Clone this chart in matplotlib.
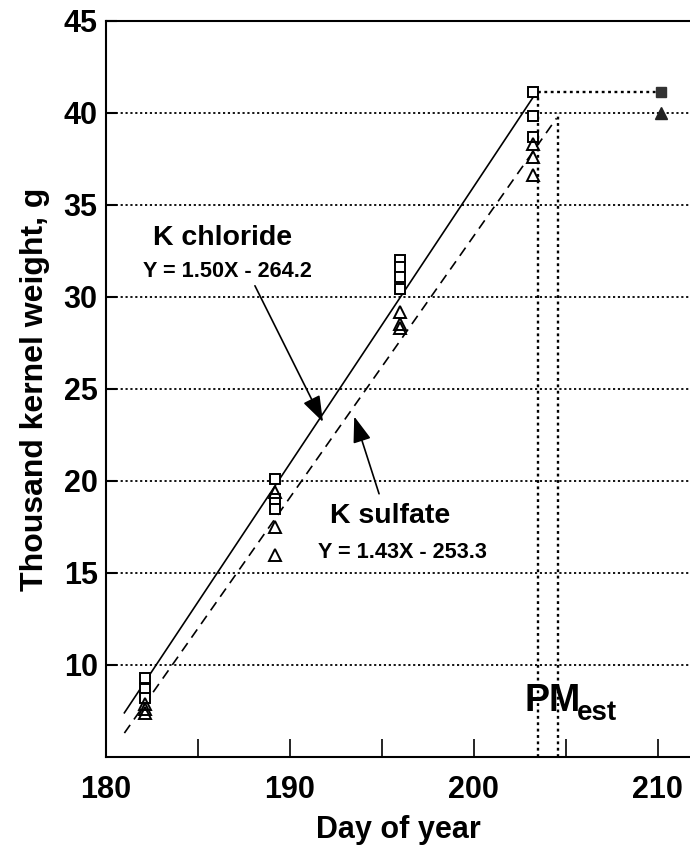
import numpy as np
import matplotlib
matplotlib.use("Agg")
import matplotlib.pyplot as plt

plt.rcParams['font.family'] = ['Liberation Sans', 'DejaVu Sans']
plt.rcParams['font.weight'] = 'bold'

# K chloride (open squares) and K sulfate (open triangles)
kcl_day = [182.1, 182.1, 182.1, 189.2, 189.2, 189.2, 196.0, 196.0, 196.0, 196.0, 203.2, 203.2, 203.2]
kcl_tkw = [9.3, 8.7, 8.2, 20.1, 19.0, 18.5, 32.0, 31.6, 31.1, 30.4, 41.1, 39.8, 38.7]
kso4_day = [182.1, 182.1, 182.1, 189.2, 189.2, 189.2, 196.0, 196.0, 196.0, 203.2, 203.2, 203.2]
kso4_tkw = [7.9, 7.6, 7.4, 19.4, 17.5, 16.0, 29.2, 28.5, 28.3, 38.3, 37.6, 36.6]

# final weights (filled symbols)
final_day = [210.2, 210.2]
final_tkw = [41.1, 40.0]

# regression line end points
kcl_line_x = [181.0, 203.4]
kcl_line_y = [7.4, 41.1]
kso4_line_x = [181.0, 204.5]
kso4_line_y = [6.3, 39.7]

# estimated physiological maturity
pm_kcl = (203.5, 41.1)
pm_kso4 = (204.6, 40.0)

fig = plt.figure(figsize=(6.9, 8.48), dpi=100)
ax = fig.add_axes([0.1536, 0.1073, 0.8464, 0.8683])
ax.set_xlim(180, 211.76)
ax.set_ylim(5, 45)

dot = (0, (1.2, 1.5))
for yv in range(10, 45, 5):
    ax.axhline(yv, color='black', lw=1.3, ls=dot, zorder=1)

ax.plot(kcl_line_x, kcl_line_y, color='black', lw=1.2, zorder=2)
ax.plot(kso4_line_x, kso4_line_y, color='black', lw=1.2, ls=(0, (6, 4)), zorder=2)

# PM dotted guides
ax.plot([pm_kcl[0], pm_kcl[0]], [5, pm_kcl[1]], color='black', lw=1.7, ls=dot, zorder=1)
ax.plot([pm_kcl[0], final_day[0]], [pm_kcl[1], pm_kcl[1]], color='black', lw=1.7, ls=dot, zorder=1)
ax.plot([pm_kso4[0], pm_kso4[0]], [5, pm_kso4[1]], color='black', lw=1.7, ls=dot, zorder=1)

ax.plot(kcl_day, kcl_tkw, ls='none', marker='s', ms=7.5, mfc='white', mec='black', mew=1.4, zorder=3)
ax.plot(kso4_day, kso4_tkw, ls='none', marker='^', ms=8.5, mfc='none', mec='black', mew=1.4, zorder=3)
ax.plot(final_day[0], final_tkw[0], ls='none', marker='s', ms=7.5, color='#333333', zorder=3)
ax.plot(final_day[1], final_tkw[1], ls='none', marker='^', ms=8.5, color='#222222', zorder=3)

arrow = dict(arrowstyle='-|>,head_length=0.8,head_width=0.28', color='black', lw=1.2,
             mutation_scale=20, shrinkA=0, shrinkB=0)

ax.text(182.55, 32.8, 'K chloride', fontsize=20.5, fontweight='bold', ha='left', va='baseline')
ax.text(182.0, 31.05, 'Y = 1.50X - 264.2', fontsize=15.6, fontweight='bold', ha='left', va='baseline')
ax.annotate('', xy=(191.8, 23.2), xytext=(188.1, 30.6), arrowprops=arrow)

ax.text(195.45, 17.7, 'K sulfate', fontsize=20.5, fontweight='bold', ha='center', va='baseline')
ax.text(196.1, 15.8, 'Y = 1.43X - 253.3', fontsize=15.6, fontweight='bold', ha='center', va='baseline')
ax.annotate('', xy=(193.5, 23.5), xytext=(194.85, 19.3), arrowprops=arrow)

ax.text(202.75, 7.5, 'PM', fontsize=27, fontweight='bold', ha='left', va='baseline')
ax.text(205.6, 7.0, 'est', fontsize=20, fontweight='bold', ha='left', va='baseline')

ax.set_xticks(np.arange(180, 211, 5))
ax.set_xticklabels(['180', '', '190', '', '200', '', '210'])
ax.set_yticks(np.arange(10, 46, 5))
ax.tick_params(axis='x', direction='in', length=13, width=1.2, pad=13, labelsize=22)
ax.tick_params(axis='y', direction='in', length=8, width=1.5, pad=6, labelsize=22)
for lab in ax.get_xticklabels() + ax.get_yticklabels():
    lab.set_fontweight('bold')

ax.spines['right'].set_visible(False)
for s in ['left', 'bottom', 'top']:
    ax.spines[s].set_linewidth(1.5)

ax.set_xlabel('Day of year', fontsize=22, fontweight='bold', labelpad=7)
ax.set_ylabel('Thousand kernel weight, g', fontsize=23, fontweight='bold', labelpad=10)

fig.savefig('out.png', dpi=100)
